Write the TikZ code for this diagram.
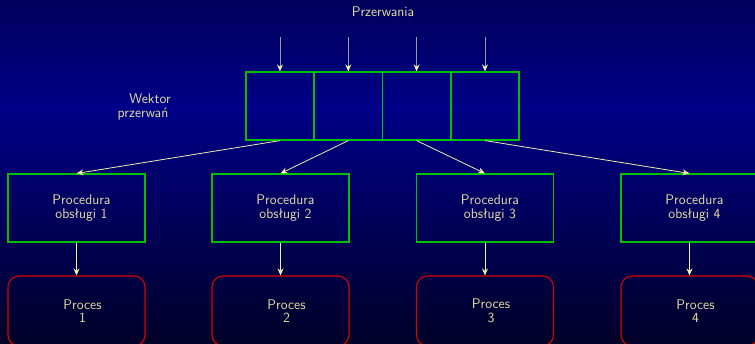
\documentclass[tikz,border=0pt]{standalone}
\usepackage{fontspec}
\usetikzlibrary{arrows.meta}
\definecolor{bgtop}{HTML}{00005C}
\definecolor{bgmid}{HTML}{000088}
\definecolor{bgbot}{HTML}{000028}
\definecolor{txt}{HTML}{E6DEA0}
\definecolor{grn}{HTML}{00C000}
\definecolor{rd}{HTML}{D80000}
\definecolor{arr}{HTML}{F2EEA8}
\definecolor{shaft}{HTML}{9A9A9A}
\tikzset{
  lbl/.style={text=txt, font=\sffamily\fontsize{14}{13.5}\selectfont, align=center},
  cell/.style={draw=grn, line width=1.2pt, minimum width=68pt, minimum height=68pt, inner sep=0pt},
  proc/.style={draw=grn, line width=1.1pt, minimum width=137pt, minimum height=68pt, inner sep=0pt},
  pcs/.style={draw=rd, line width=1.1pt, rounded corners=11pt, minimum width=137pt, minimum height=70pt, inner sep=0pt},
  conn/.style={draw=arr, line width=0.8pt, -{Stealth[length=7pt, width=6pt]}},
  inarr/.style={draw=shaft, line width=1pt, -{Stealth[length=7pt, width=6pt, color=arr]}}
}
\begin{document}
\begin{tikzpicture}[x=1pt, y=-1pt]
\shade[top color=bgtop, bottom color=bgmid] (0,0) rectangle (755,107);
\shade[top color=bgmid, bottom color=bgbot] (0,107) rectangle (755,343);
\useasboundingbox (0,0) rectangle (755,343);

\node[lbl] (title) at (383,12) {Przerwania};
\node[lbl] (wek) at (143,107) {\hspace*{14pt}Wektor\\przerwań};

\node[cell] (c1) at (280,106) {};
\node[cell] (c2) at (348.3,106) {};
\node[cell] (c3) at (416.6,106) {};
\node[cell] (c4) at (485,106) {};

\foreach \i in {1,...,4} {
  \coordinate (s\i) at ([yshift=34pt]c\i.north);
  \draw[inarr] (s\i) -- (c\i.north);
}

\foreach \i/\x in {1/76.5, 2/280.5, 3/485, 4/689.5} {
  \node[proc, label={[lbl, xshift=5pt]center:{Procedura\\obsługi \i}}] (p\i) at (\x,208) {};
  \node[pcs, label={[lbl, xshift=6pt]center:{Proces\\\i}}] (r\i) at (\x,311) {};
}

\foreach \i in {1,...,4} {
  \draw[conn] (c\i.south) -- (p\i.north);
  \draw[conn] (p\i.south) -- (r\i.north);
}
\end{tikzpicture}
\end{document}
